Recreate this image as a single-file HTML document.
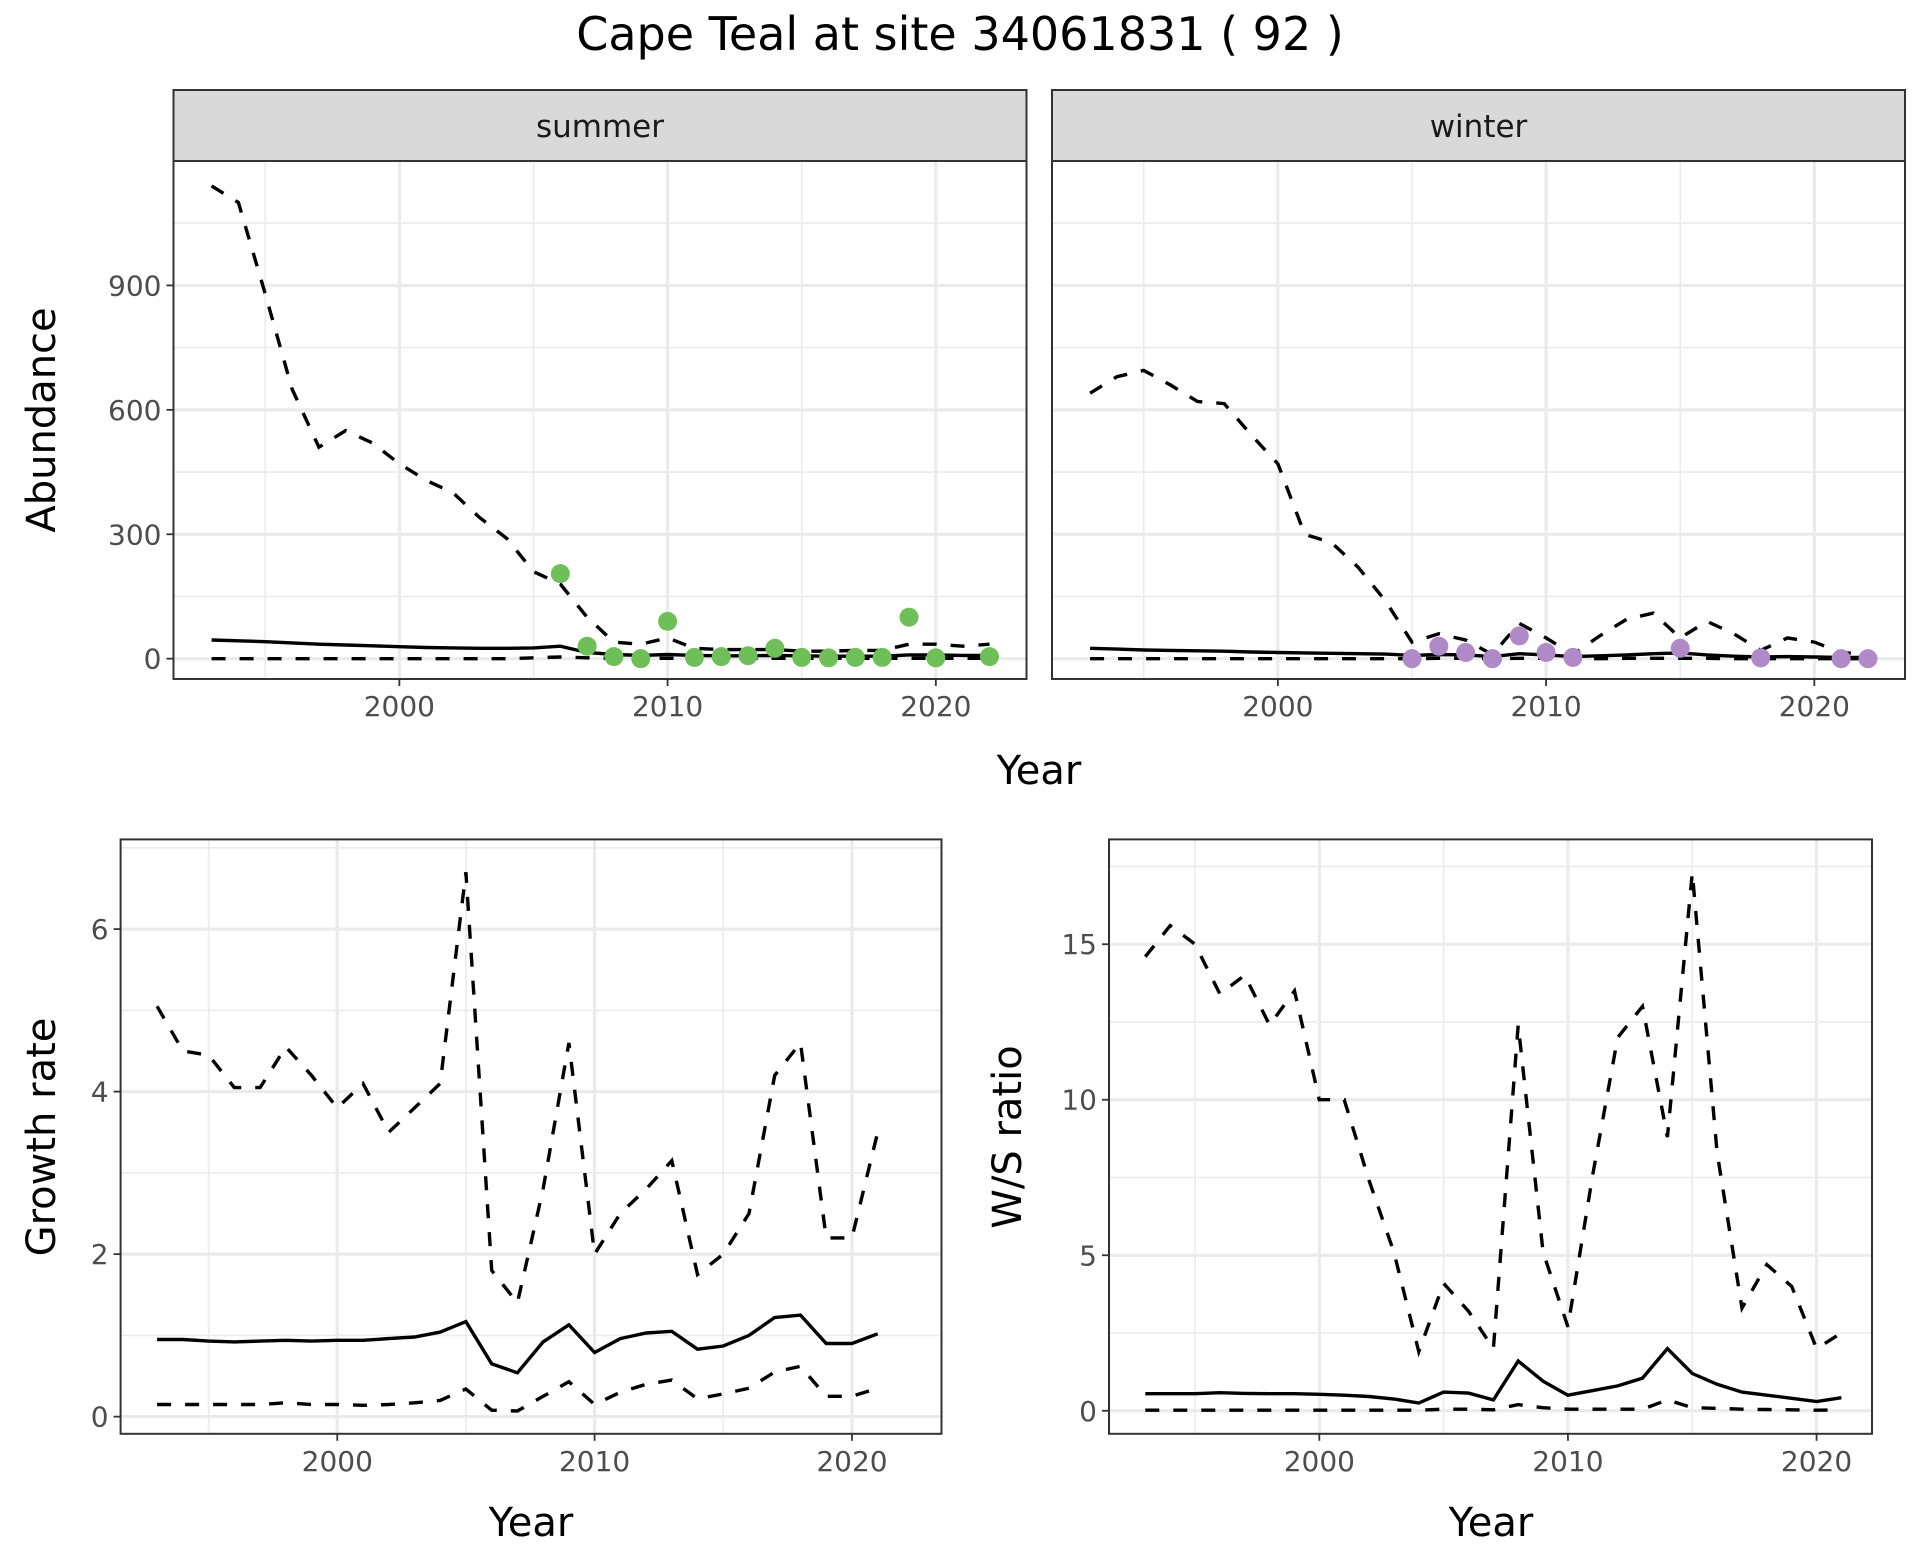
<!DOCTYPE html>
<html><head><meta charset="utf-8"><style>
body{margin:0;background:#fff}
svg text{font-family:"DejaVu Sans","Liberation Sans",sans-serif}
</style></head><body>
<svg id="c" width="1920" height="1560" xmlns="http://www.w3.org/2000/svg">
<rect width="1920" height="1560" fill="#fff"/>
<text x="960" y="50" font-size="46" text-anchor="middle" fill="#000">Cape Teal at site 34061831 ( 92 )</text>
</svg>
<script>
const yearsAb = [1993,1994,1995,1996,1997,1998,1999,2000,2001,2002,2003,2004,2005,2006,2007,2008,2009,2010,2011,2012,2013,2014,2015,2016,2017,2018,2019,2020,2021,2022];
const sumUpper = [1140,1100,880,650,510,550,520,470,430,400,340,290,210,180,100,40,35,50,25,22,22,22,18,18,20,20,35,35,30,35];
const sumMean = [45,43,41,38,35,33,31,29,27,26,25,25,26,30,15,10,8,10,8,7,7,8,7,6,6,6,9,9,8,8];
const sumLower = [0,0,0,0,0,0,0,0,0,0,0,0,2,4,2,1,1,1,1,1,1,1,1,1,1,1,1,1,1,1];
const sumPtYears = [2006,2007,2008,2009,2010,2011,2012,2013,2014,2015,2016,2017,2018,2019,2020,2022];
const sumPtVals = [205,30,5,0,90,3,5,7,25,3,2,3,3,100,2,5];
const winUpper = [640,680,695,660,620,615,540,470,300,280,220,140,40,60,45,10,85,50,10,55,95,110,50,90,60,20,50,40,15,10];
const winMean = [25,23,21,20,19,18,16,15,14,13,12,11,8,10,9,5,12,9,5,7,9,12,14,9,6,4,5,4,3,3];
const winLower = [0,0,0,0,0,0,0,0,0,0,0,0,0,1,1,0,1,1,0,0,1,1,1,1,0,0,0,0,0,0];
const winPtYears = [2005,2006,2007,2008,2009,2010,2011,2015,2018,2021,2022];
const winPtVals = [0,30,15,0,55,15,3,25,2,0,0];
const yearsR = [1993,1994,1995,1996,1997,1998,1999,2000,2001,2002,2003,2004,2005,2006,2007,2008,2009,2010,2011,2012,2013,2014,2015,2016,2017,2018,2019,2020,2021];
const grUpper = [5.05,4.5,4.45,4.05,4.05,4.55,4.2,3.8,4.1,3.5,3.8,4.1,6.7,1.8,1.4,2.8,4.6,2.0,2.5,2.8,3.15,1.75,2.0,2.5,4.2,4.6,2.2,2.2,3.5];
const grMean = [0.95,0.95,0.93,0.92,0.93,0.94,0.93,0.94,0.94,0.96,0.98,1.04,1.17,0.65,0.54,0.92,1.13,0.79,0.96,1.03,1.05,0.83,0.87,1.0,1.22,1.25,0.9,0.9,1.02];
const grLower = [0.15,0.15,0.15,0.15,0.15,0.17,0.15,0.15,0.14,0.15,0.17,0.2,0.34,0.08,0.07,0.25,0.43,0.15,0.3,0.4,0.45,0.22,0.28,0.35,0.55,0.62,0.25,0.25,0.35];
const wsUpper = [14.6,15.6,15,13.4,14,12.4,13.5,10,10,7.4,5.1,1.9,4.1,3.2,2,12.4,5.1,2.7,7.6,12,13,8.8,17.3,8.3,3.3,4.7,4,2,2.5];
const wsMean = [0.55,0.55,0.55,0.58,0.56,0.55,0.55,0.53,0.5,0.46,0.38,0.25,0.6,0.57,0.35,1.6,0.95,0.5,0.65,0.8,1.05,2.0,1.2,0.85,0.6,0.5,0.4,0.3,0.42];
const wsLower = [0.02,0.02,0.02,0.02,0.02,0.02,0.02,0.02,0.02,0.02,0.02,0.02,0.05,0.05,0.03,0.2,0.1,0.05,0.05,0.05,0.05,0.35,0.1,0.08,0.05,0.04,0.03,0.02,0.03];
const abTicks = [0,300,600,900];
const abMinor = [150,450,750,1050];
const grTicks = [0,2,4,6];
const grMinor = [1,3,5,7];
const wsTicks = [0,5,10,15];
const wsMinor = [2.5,7.5,12.5,17.5];
const xTicks = [2000,2010,2020];
const xMinor = [1995,2005,2015];

const svg=document.getElementById('c');
const NS='http://www.w3.org/2000/svg';
function mk(tag,at,parent){const e=document.createElementNS(NS,tag);for(const k in at)e.setAttribute(k,at[k]);(parent||svg).appendChild(e);return e;}

function panel(name,L,R,T,B,x0,x1,y0,y1,yT,yMin,showY){
  const g=mk('g',{});
  
  
  const sx=v=>L+(v-x0)/(x1-x0)*(R-L);
  const sy=v=>B-(v-y0)/(y1-y0)*(B-T);
  mk('rect',{x:L,y:T,width:R-L,height:B-T,fill:'#fff'},g);
  yMin.forEach(v=>{const y=sy(v);if(y>T&&y<B){const l=mk('line',{x1:L,x2:R,y1:y,y2:y,stroke:'#ebebeb','stroke-width':1.6},g);}});
  xMinor.forEach(v=>{const x=sx(v);const l=mk('line',{x1:x,x2:x,y1:T,y2:B,stroke:'#ebebeb','stroke-width':1.6},g);});
  yT.forEach(v=>{const y=sy(v);const l=mk('line',{x1:L,x2:R,y1:y,y2:y,stroke:'#ebebeb','stroke-width':3.2},g);
    if(showY){mk('line',{x1:L-7,x2:L,y1:y,y2:y,stroke:'#333','stroke-width':1.8},g);
      const t=mk('text',{x:L-12,y:y+10,'font-size':28,'text-anchor':'end',fill:'#4d4d4d'},g);t.textContent=v;
      }});
  xTicks.forEach(v=>{const x=sx(v);const l=mk('line',{x1:x,x2:x,y1:T,y2:B,stroke:'#ebebeb','stroke-width':3.2},g);
    mk('line',{x1:x,x2:x,y1:B,y2:B+7,stroke:'#333','stroke-width':1.8},g);
    const t=mk('text',{x:x,y:B+37,'font-size':28,'text-anchor':'middle',fill:'#4d4d4d'},g);t.textContent=v;
    });
  return {g,sx,sy,L,R,T,B};
}
function line(p,xs,ys,dash,name){
  const d=xs.map((x,i)=>(i?'L':'M')+p.sx(x).toFixed(1)+','+p.sy(ys[i]).toFixed(1)).join('');
  const a={d:d,fill:'none',stroke:'#000','stroke-width':3.4};
  if(dash)a['stroke-dasharray']='14 14';
  const e=mk('path',a,p.g);
  
  
}
function pts(p,xs,ys,col,name){
  xs.forEach((x,i)=>{const c=mk('circle',{cx:p.sx(x),cy:p.sy(ys[i]),r:9.5,fill:col},p.g);
    
    });
}
function border(p){mk('rect',{x:p.L,y:p.T,width:p.R-p.L,height:p.B-p.T,fill:'none',stroke:'#333','stroke-width':2},p.g);}
function strip(p,label,name){
  const r=mk('rect',{x:p.L,y:90,width:p.R-p.L,height:71,fill:'#d9d9d9',stroke:'#333','stroke-width':2},p.g);
  
  const t=mk('text',{x:(p.L+p.R)/2,y:137,'font-size':31,'text-anchor':'middle',fill:'#1a1a1a'},p.g);t.textContent=label;
  
}
const ps=panel('summer-panel',173.5,1026.5,161,679,1991.58,2023.38,-49,1200,abTicks,abMinor,true);
line(ps,yearsAb,sumUpper,true,'summer-upper-ci');line(ps,yearsAb,sumLower,true,'summer-lower-ci');line(ps,yearsAb,sumMean,false,'summer-mean');
pts(ps,sumPtYears,sumPtVals,'#6fbf59','summer-count-point');border(ps);strip(ps,'summer','summer-strip');
const pw=panel('winter-panel',1052,1905,161,679,1991.58,2023.38,-49,1200,abTicks,abMinor,false);
line(pw,yearsAb,winUpper,true,'winter-upper-ci');line(pw,yearsAb,winLower,true,'winter-lower-ci');line(pw,yearsAb,winMean,false,'winter-mean');
pts(pw,winPtYears,winPtVals,'#b08ac8','winter-count-point');border(pw);strip(pw,'winter','winter-strip');
const pg=panel('growth-rate-panel',120.6,941.5,839.4,1433.8,1991.58,2023.48,-0.211,7.104,grTicks,grMinor,true);
line(pg,yearsR,grUpper,true,'growth-upper-ci');line(pg,yearsR,grLower,true,'growth-lower-ci');line(pg,yearsR,grMean,false,'growth-mean');border(pg);
const pr=panel('ws-ratio-panel',1109,1872,839.4,1433.8,1991.54,2022.23,-0.74,18.37,wsTicks,wsMinor,true);
line(pr,yearsR,wsUpper,true,'ws-upper-ci');line(pr,yearsR,wsLower,true,'ws-lower-ci');line(pr,yearsR,wsMean,false,'ws-mean');border(pr);
function title(txt,x,y,rot,name){const t=mk('text',{x:x,y:y,'font-size':40,'text-anchor':'middle',fill:'#000'});
  if(rot)t.setAttribute('transform','rotate(-90 '+x+' '+y+')');t.textContent=txt;
  }
title('Abundance',55,420,true,'y-axis-title-abundance');
title('Year',1039,784,false,'x-axis-title-top');
title('Growth rate',55,1137,true,'y-axis-title-growth');
title('Year',531,1536,false,'x-axis-title-growth');
title('W/S ratio',1021,1137,true,'y-axis-title-ws');
title('Year',1491,1536,false,'x-axis-title-ws');
</script>
</body></html>
